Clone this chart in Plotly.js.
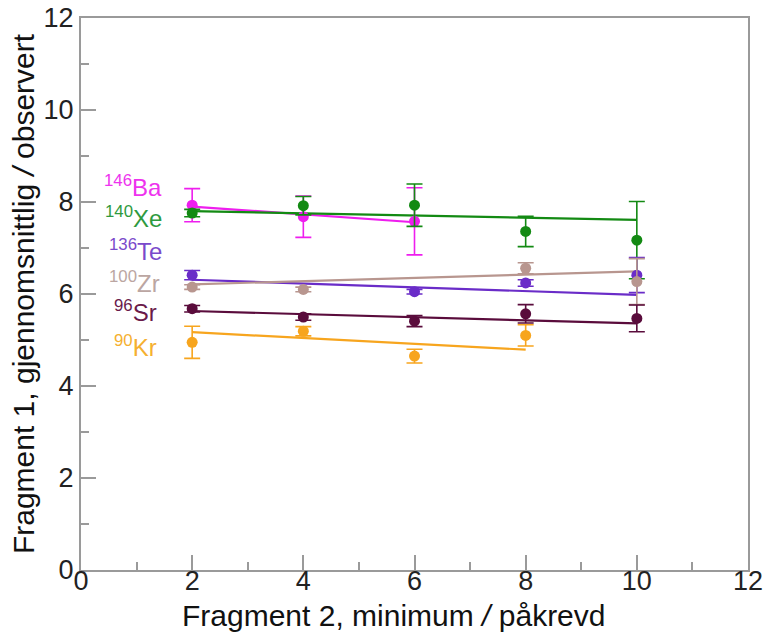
<!DOCTYPE html>
<html>
<head>
<meta charset="utf-8">
<script src="https://cdn.plot.ly/plotly-3.0.1.min.js"></script>
<style>html,body{margin:0;padding:0;background:#fff;}#chart{width:768px;height:633px;}</style>
</head>
<body>
<div id="chart"></div>
<script>
// ---- data ----
const xVals = [2, 4, 6, 8, 10];

const nuclides = ["Ba", "Xe", "Te", "Zr", "Sr", "Kr"];
const massNumbers = ["146", "140", "136", "100", "96", "90"];

const baY   = [7.93, 7.68, 7.58, null, null];
const baErr = [0.36, 0.45, 0.73, null, null];
const xeY   = [7.76, 7.92, 7.93, 7.36, 7.17];
const xeErr = [0.08, 0.20, 0.46, 0.33, 0.84];
const teY   = [6.41, null, 6.05, 6.24, 6.41];
const teErr = [0.10, null, 0.05, 0.07, 0.38];
const zrY   = [6.15, 6.10, null, 6.56, 6.27];
const zrErr = [0.05, 0.05, null, 0.12, 0.50];
const srY   = [5.68, 5.50, 5.41, 5.57, 5.47];
const srErr = [0.07, 0.07, 0.12, 0.20, 0.29];
const krY   = [4.95, 5.19, 4.65, 5.10, null];
const krErr = [0.35, 0.10, 0.15, 0.23, null];

// fitted straight lines: [start x, end x] and [start y, end y]
const baFitX = [2, 6],  baFitY = [7.90, 7.56];
const xeFitX = [2, 10], xeFitY = [7.80, 7.61];
const teFitX = [2, 10], teFitY = [6.31, 5.98];
const zrFitX = [2, 10], zrFitY = [6.21, 6.49];
const srFitX = [2, 10], srFitY = [5.63, 5.36];
const krFitX = [2, 8],  krFitY = [5.17, 4.79];

const xTitle = "Fragment 2, minimum <i>/</i> påkrevd";
const yTitle = "Fragment 1, gjennomsnittlig <i>/</i> observert";

// ---- styling ----
const FONT = "Liberation Sans, Arial, sans-serif";
const series = [
  {y: baY, e: baErr, fx: baFitX, fy: baFitY, color: "#ee1eee", lab: "#ee33ee"},
  {y: xeY, e: xeErr, fx: xeFitX, fy: xeFitY, color: "#138a13", lab: "#2e9a3e"},
  {y: teY, e: teErr, fx: teFitX, fy: teFitY, color: "#6a2cc8", lab: "#7a4acb"},
  {y: zrY, e: zrErr, fx: zrFitX, fy: zrFitY, color: "#b8968f", lab: "#bba6a2"},
  {y: srY, e: srErr, fx: srFitX, fy: srFitY, color: "#5a0c3c", lab: "#6a1a4a"},
  {y: krY, e: krErr, fx: krFitX, fy: krFitY, color: "#f7a51e", lab: "#f5b030"}
];
const labelPos = [
  {x: 1.50, y: 8.34}, {x: 1.50, y: 7.68}, {x: 1.50, y: 6.96},
  {x: 1.45, y: 6.27}, {x: 1.41, y: 5.62}, {x: 1.41, y: 4.86}
];

const traces = [];
series.forEach((s) => {
  traces.push({
    type: "scatter", mode: "lines", x: s.fx, y: s.fy,
    line: {color: s.color, width: 2.2}, hoverinfo: "skip", showlegend: false
  });
});
series.forEach((s, i) => {
  traces.push({
    type: "scatter", mode: "markers", x: xVals, y: s.y, name: nuclides[i],
    marker: {color: s.color, size: 11},
    error_y: {type: "data", array: s.e, visible: true, color: s.color, thickness: 1.6, width: 8},
    showlegend: false
  });
});

const annotations = nuclides.map((n, i) => ({
  x: labelPos[i].x, y: labelPos[i].y, xref: "x", yref: "y",
  xanchor: "right", yanchor: "middle", showarrow: false,
  text: "<sup>" + massNumbers[i] + "</sup>" + n,
  font: {family: FONT, size: 24, color: series[i].lab}
}));
annotations.push({
  x: 0.469, y: -0.083, xref: "paper", yref: "paper",
  xanchor: "center", yanchor: "middle", showarrow: false,
  text: xTitle, font: {family: FONT, size: 30, color: "#111"}
});

const axisCommon = {
  range: [0, 12], dtick: 2, tick0: 0,
  showline: true, linecolor: "#9a9a9a", linewidth: 2, mirror: true,
  ticks: "inside", ticklen: 15, tickwidth: 2, tickcolor: "#9a9a9a",
  minor: {dtick: 1, ticks: "inside", ticklen: 8, tickwidth: 2, tickcolor: "#9a9a9a", showgrid: false},
  showgrid: false, zeroline: false,
  tickfont: {family: FONT, size: 27, color: "#222"}
};

const layout = {
  width: 768, height: 633,
  margin: {l: 81, r: 20, t: 18, b: 63},
  paper_bgcolor: "#fff", plot_bgcolor: "#fff",
  showlegend: false,
  xaxis: Object.assign({}, axisCommon, {ticklabelstandoff: -14}),
  yaxis: Object.assign({}, axisCommon, {
    title: {text: yTitle, standoff: 0, font: {family: FONT, size: 30, color: "#111"}}
  }),
  annotations: annotations
};

Plotly.newPlot("chart", traces, layout, {displayModeBar: false, staticPlot: true});
</script>
</body>
</html>
